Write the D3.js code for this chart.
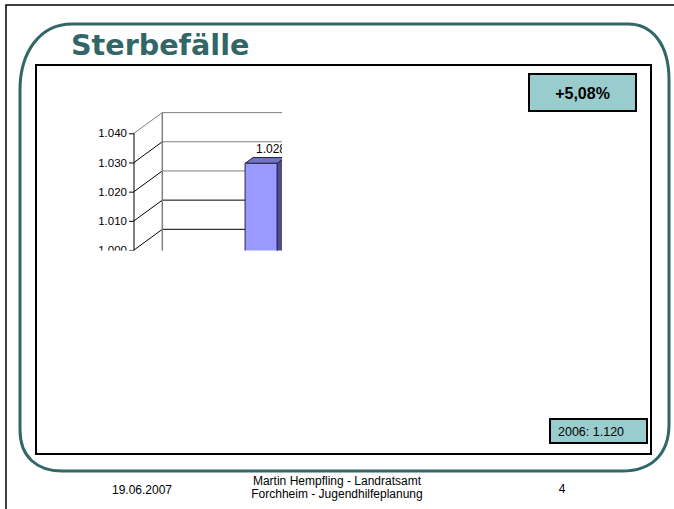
<!DOCTYPE html>
<html>
<head>
<meta charset="utf-8">
<script src="https://cdn.jsdelivr.net/npm/d3@7"></script>
<style>
  html, body { margin: 0; padding: 0; background: #fff; }
  svg { display: block; }
</style>
</head>
<body>
<div id="chart"></div>
<script>
// slide texts
const title = 'Sterbefälle'
const changeLabel = '+5,08%'
const lastYearLabel = '2006: 1.120'
const footerDate = '19.06.2007'
const footerAuthor = ['Martin Hempfling - Landratsamt', 'Forchheim - Jugendhilfeplanung']
const footerPage = '4'

// chart data (only the first bar is visible in the clipped chart)
const categories = ['1']
const values = [1.028]
const valueLabels = ['1.028']
const yTicks = [1.000, 1.010, 1.020, 1.030, 1.040]
const yTickLabels = ['1.000', '1.010', '1.020', '1.030', '1.040']

const width = 674
const height = 509
const teal = '#336666'

const svg = d3.select('#chart')
  .append('svg')
  .attr('width', width)
  .attr('height', height)
  .attr('viewBox', [0, 0, width, height].join(' '))

// page border
svg.append('path')
  .attr('d', `M6,${height} V5 H${width}`)
  .attr('fill', 'none')
  .attr('stroke', '#000')
  .attr('stroke-width', 1.5)

// rounded teal frame
svg.append('path')
  .attr('d', 'M72,24 H628 C652,24 669,44 669,80 V424 C669,454 652,471 622,471 H62 C36,471 20,456 20,430 V90 C20,52 40,24 72,24 Z')
  .attr('fill', 'none')
  .attr('stroke', teal)
  .attr('stroke-width', 3)

svg.append('text')
  .attr('x', 71)
  .attr('y', 55)
  .attr('fill', teal)
  .attr('font-family', 'DejaVu Sans, sans-serif')
  .attr('font-weight', 'bold')
  .attr('font-size', 28.6)
  .text(title)

// inner black box
svg.append('rect')
  .attr('x', 36).attr('y', 65)
  .attr('width', 615).attr('height', 389)
  .attr('fill', '#fff')
  .attr('stroke', '#000')
  .attr('stroke-width', 2)

// ---- clipped 3D bar chart ----
svg.append('clipPath').attr('id', 'chartClip')
  .append('rect')
  .attr('x', 60).attr('y', 90)
  .attr('width', 222).attr('height', 160.5)

const chart = svg.append('g').attr('clip-path', 'url(#chartClip)')

const depth = { dx: 28.3, dy: -20.7 }
const barDepth = [0.24, 0.52]

const y = d3.scaleLinear()
  .domain([1.000, 1.040])
  .range([250, 133.3])

const x = d3.scaleBand()
  .domain(categories)
  .range([238.3, 270.3])
  .padding(0)

const axisX = 134
const wallRight = 420

// back wall gridlines
chart.append('g')
  .selectAll('line')
  .data(yTicks)
  .join('line')
  .attr('x1', axisX + depth.dx)
  .attr('x2', wallRight)
  .attr('y1', d => y(d) + depth.dy)
  .attr('y2', d => y(d) + depth.dy)
  .attr('stroke', d => d >= 1.020 ? '#808080' : '#000')
  .attr('stroke-width', 1)

// side wall diagonals
chart.append('g')
  .selectAll('line')
  .data(yTicks)
  .join('line')
  .attr('x1', axisX)
  .attr('y1', d => y(d))
  .attr('x2', axisX + depth.dx)
  .attr('y2', d => y(d) + depth.dy)
  .attr('stroke', d => d === 1.040 ? '#808080' : '#000')
  .attr('stroke-width', 1)

// back wall vertical edge
chart.append('line')
  .attr('x1', axisX + depth.dx).attr('x2', axisX + depth.dx)
  .attr('y1', y(1.040) + depth.dy).attr('y2', 300)
  .attr('stroke', '#808080')
  .attr('stroke-width', 1.5)

// y axis
const yAxis = g => g
  .attr('transform', `translate(${axisX},0)`)
  .call(d3.axisLeft(y)
    .tickValues(yTicks)
    .tickFormat((d, i) => yTickLabels[i])
    .tickSize(5)
    .tickSizeOuter(0))
  .call(g => g.select('.domain').attr('stroke', '#000'))
  .call(g => g.selectAll('.tick line').attr('stroke', '#000'))
  .call(g => g.selectAll('.tick text')
    .attr('x', -7)
    .attr('fill', '#000')
    .attr('font-family', 'Liberation Sans, Arial, sans-serif')
    .attr('font-size', 11.5))

chart.append('g').call(yAxis)
chart.select('.domain').attr('d', `M0,${y(1.040)}V300`)

// bars
const bar = chart.append('g')
  .selectAll('g.bar')
  .data(values.map((value, i) => ({ value, category: categories[i], label: valueLabels[i] })))
  .join('g')
  .attr('class', 'bar')

const [t0, t1] = barDepth
const pt = (px, py, t) => [px + depth.dx * t, py + depth.dy * t]

bar.append('polygon') // side face
  .attr('points', d => {
    const xr = x(d.category) + x.bandwidth()
    return [pt(xr, y(d.value), t0), pt(xr, y(d.value), t1), pt(xr, 300, t1), pt(xr, 300, t0)].join(' ')
  })
  .attr('fill', '#4d4d8f')
  .attr('stroke', '#222244')
  .attr('stroke-width', 1)

bar.append('polygon') // top face
  .attr('points', d => {
    const xl = x(d.category)
    const xr = xl + x.bandwidth()
    return [pt(xl, y(d.value), t0), pt(xr, y(d.value), t0), pt(xr, y(d.value), t1), pt(xl, y(d.value), t1)].join(' ')
  })
  .attr('fill', '#7373c4')
  .attr('stroke', '#222244')
  .attr('stroke-width', 1)

bar.append('polygon') // front face
  .attr('points', d => {
    const xl = x(d.category)
    const xr = xl + x.bandwidth()
    return [pt(xl, y(d.value), t0), pt(xr, y(d.value), t0), pt(xr, 300, t0), pt(xl, 300, t0)].join(' ')
  })
  .attr('fill', '#9999ff')
  .attr('stroke', '#222244')
  .attr('stroke-width', 1)

bar.append('text')
  .attr('x', d => pt(x(d.category) + x.bandwidth() / 2, 0, t1)[0] + 2)
  .attr('y', d => pt(0, y(d.value), t1)[1] - 5)
  .attr('text-anchor', 'middle')
  .attr('font-family', 'Liberation Sans, Arial, sans-serif')
  .attr('font-size', 12)
  .text(d => d.label)

// ---- info boxes ----
svg.append('rect')
  .attr('x', 529).attr('y', 74)
  .attr('width', 107).attr('height', 37)
  .attr('fill', '#99cccc')
  .attr('stroke', '#000')
  .attr('stroke-width', 2)

svg.append('text')
  .attr('x', 582.5).attr('y', 99)
  .attr('text-anchor', 'middle')
  .attr('font-family', 'Liberation Sans, Arial, sans-serif')
  .attr('font-weight', 'bold')
  .attr('font-size', 16)
  .text(changeLabel)

svg.append('rect')
  .attr('x', 550).attr('y', 419)
  .attr('width', 97).attr('height', 24)
  .attr('fill', '#99cccc')
  .attr('stroke', '#000')
  .attr('stroke-width', 2)

svg.append('text')
  .attr('x', 558).attr('y', 436)
  .attr('font-family', 'Liberation Sans, Arial, sans-serif')
  .attr('font-size', 12.5)
  .text(lastYearLabel)

// ---- footer ----
const footer = svg.append('g')
  .attr('font-family', 'Liberation Sans Narrow, Liberation Sans, Arial, sans-serif')
  .attr('font-size', 12)
  .attr('text-anchor', 'middle')
  .attr('fill', '#000')

footer.append('text').attr('x', 142).attr('y', 494).text(footerDate)
footer.selectAll('text.author')
  .data(footerAuthor)
  .join('text')
  .attr('class', 'author')
  .attr('x', 337)
  .attr('y', (d, i) => 485 + i * 13)
  .text(d => d)
footer.append('text').attr('x', 562).attr('y', 493).text(footerPage)
</script>
</body>
</html>
